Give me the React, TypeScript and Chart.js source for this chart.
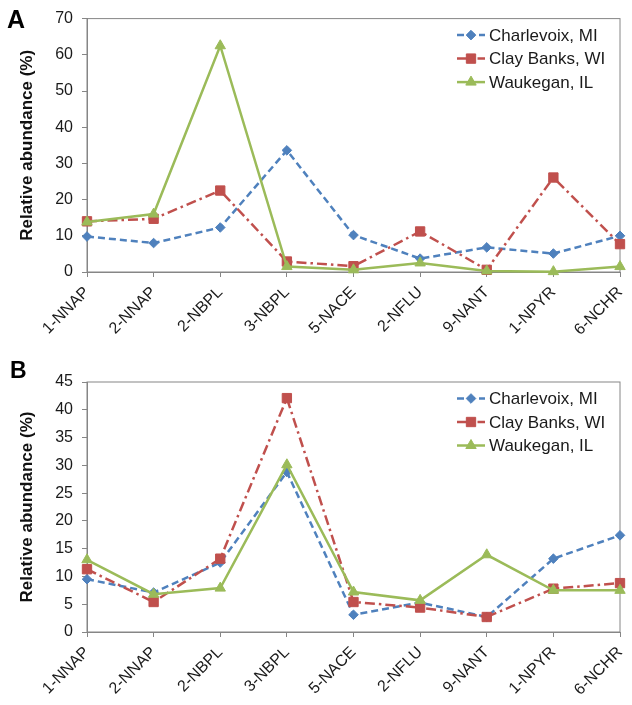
import React, { useEffect, useRef } from "react";
import { Chart, registerables } from "chart.js";

Chart.register(...registerables);

const categories = ["1-NNAP", "2-NNAP", "2-NBPL", "3-NBPL", "5-NACE", "2-NFLU", "9-NANT", "1-NPYR", "6-NCHR"];
const seriesNames = ["Charlevoix, MI", "Clay Banks, WI", "Waukegan, IL"];

const charlevoixA = [9.8, 8.0, 12.3, 33.6, 10.2, 3.7, 6.8, 5.1, 10.0];
const clayBanksA = [14.0, 14.7, 22.5, 2.9, 1.6, 11.2, 0.6, 26.1, 7.7];
const waukeganA = [13.8, 16.0, 62.5, 1.5, 0.6, 2.5, 0.3, 0.1, 1.5];

const charlevoixB = [9.5, 7.1, 12.5, 28.8, 3.1, 5.3, 2.7, 13.2, 17.4];
const clayBanksB = [11.3, 5.4, 13.2, 42.1, 5.4, 4.4, 2.7, 7.8, 8.8];
const waukeganB = [13.0, 6.8, 7.9, 30.1, 7.2, 5.7, 13.9, 7.5, 7.5];

const yMaxA = 70;
const yStepA = 10;
const yMaxB = 45;
const yStepB = 5;
const yTitle = "Relative abundance (%)";

const FONT = "'Liberation Sans', Arial, Helvetica, sans-serif";
const BLUE = "#4F81BD";
const RED = "#C0504D";
const GREEN = "#9BBB59";
const AXIS = "#868686";

function drawMarker(ctx: CanvasRenderingContext2D, style: string, x: number, y: number, r: number, color: string) {
  ctx.save();
  ctx.fillStyle = color;
  ctx.strokeStyle = color;
  ctx.lineWidth = 1;
  ctx.setLineDash([]);
  ctx.beginPath();
  if (style === "rectRot") {
    ctx.moveTo(x, y - r);
    ctx.lineTo(x + r, y);
    ctx.lineTo(x, y + r);
    ctx.lineTo(x - r, y);
    ctx.closePath();
  } else if (style === "rect") {
    const s = Math.SQRT1_2 * r;
    ctx.rect(x - s, y - s, 2 * s, 2 * s);
  } else {
    const h = r * 1.5;
    const half = r * Math.sin(Math.PI / 3);
    ctx.moveTo(x, y - r);
    ctx.lineTo(x + half, y - r + h);
    ctx.lineTo(x - half, y - r + h);
    ctx.closePath();
  }
  ctx.fill();
  ctx.stroke();
  ctx.restore();
}

const framePlugin = {
  id: "frameAndLegend",
  beforeDatasetsDraw(chart: any) {
    const { ctx, chartArea } = chart;
    ctx.save();
    ctx.strokeStyle = AXIS;
    ctx.lineWidth = 1;
    ctx.strokeRect(chartArea.left, chartArea.top, chartArea.right - chartArea.left, chartArea.bottom - chartArea.top);
    ctx.restore();
  },
  afterDraw(chart: any, _args: any, opts: any) {
    const { ctx, chartArea } = chart;
    chart.data.datasets.forEach((ds: any, i: number) => {
      const y = chartArea.top + 16.5 + i * 23.5;
      const x0 = chartArea.right - 163;
      const x1 = chartArea.right - 135;
      const xm = chartArea.right - 149;
      ctx.save();
      ctx.strokeStyle = ds.borderColor;
      ctx.lineWidth = ds.borderWidth;
      ctx.setLineDash(ds.borderDash || []);
      ctx.beginPath();
      ctx.moveTo(x0, y);
      ctx.lineTo(x1, y);
      ctx.stroke();
      ctx.restore();
      drawMarker(ctx, ds.pointStyle, xm, y, ds.pointRadius, ds.pointBackgroundColor);
      ctx.save();
      ctx.fillStyle = "#1a1a1a";
      ctx.font = `17px ${FONT}`;
      ctx.textAlign = "left";
      ctx.textBaseline = "middle";
      ctx.fillText(ds.label, chartArea.right - 131, y + 1);
      ctx.restore();
    });
    if (opts && opts.letter) {
      ctx.save();
      ctx.fillStyle = "#000";
      ctx.font = `bold ${opts.letterSize}px ${FONT}`;
      ctx.textAlign = "left";
      ctx.textBaseline = "alphabetic";
      ctx.fillText(opts.letter, opts.letterX, opts.letterY);
      ctx.restore();
    }
  },
};

function makeConfig(
  c: number[],
  r: number[],
  w: number[],
  yMax: number,
  yStep: number,
  topPad: number,
  xHeight: number,
  letter: string,
  letterSize: number,
  letterX: number,
  letterY: number
): any {
  const common = { fill: false, tension: 0, borderWidth: 2.5, clip: false, pointBorderWidth: 1 };
  return {
    type: "line",
    data: {
      labels: categories,
      datasets: [
        {
          ...common,
          label: seriesNames[0],
          data: c,
          borderColor: BLUE,
          backgroundColor: BLUE,
          pointBackgroundColor: BLUE,
          pointBorderColor: BLUE,
          borderDash: [7, 4],
          pointStyle: "rectRot",
          pointRadius: 4.8,
          order: 2,
        },
        {
          ...common,
          label: seriesNames[1],
          data: r,
          borderColor: RED,
          backgroundColor: RED,
          pointBackgroundColor: RED,
          pointBorderColor: RED,
          borderDash: [10, 4, 2.5, 4],
          pointStyle: "rect",
          pointRadius: 6.6,
          order: 1,
        },
        {
          ...common,
          label: seriesNames[2],
          data: w,
          borderColor: GREEN,
          backgroundColor: GREEN,
          pointBackgroundColor: GREEN,
          pointBorderColor: GREEN,
          borderDash: [],
          pointStyle: "triangle",
          pointRadius: 6,
          order: 0,
        },
      ],
    },
    options: {
      responsive: false,
      animation: false,
      devicePixelRatio: 1,
      layout: { padding: { top: topPad, right: 12, left: 0, bottom: 0 } },
      plugins: {
        legend: { display: false },
        tooltip: { enabled: false },
        frameAndLegend: { letter, letterSize, letterX, letterY },
      },
      scales: {
        x: {
          type: "category",
          offset: false,
          grid: { display: true, drawOnChartArea: false, drawTicks: true, tickLength: 5, color: AXIS },
          border: { display: true, color: AXIS, width: 1 },
          ticks: {
            color: "#1a1a1a",
            font: { family: FONT, size: 16 },
            maxRotation: 45,
            minRotation: 45,
            padding: 6,
            autoSkip: false,
          },
          afterFit: (scale: any) => {
            scale.height = xHeight;
            scale.paddingRight = 0;
            scale.paddingLeft = 0;
          },
        },
        y: {
          min: 0,
          max: yMax,
          grid: { display: true, drawOnChartArea: false, drawTicks: true, tickLength: 5, color: AXIS },
          border: { display: true, color: AXIS, width: 1 },
          ticks: {
            stepSize: yStep,
            color: "#1a1a1a",
            font: { family: FONT, size: 16 },
            padding: 9,
          },
          title: {
            display: true,
            text: yTitle,
            color: "#111",
            font: { family: FONT, size: 17, weight: "bold" },
            padding: { top: 17, bottom: 0 },
          },
          afterFit: (scale: any) => {
            scale.width = 87;
          },
        },
      },
    },
    plugins: [framePlugin],
  };
}

function ChartPanel(props: { config: any; height: number; top: number }) {
  const ref = useRef<HTMLCanvasElement | null>(null);
  useEffect(() => {
    if (!ref.current) return;
    const chart = new Chart(ref.current, props.config);
    return () => chart.destroy();
  }, []);
  return (
    <canvas
      ref={ref}
      width={632}
      height={props.height}
      style={{ position: "absolute", left: 0, top: props.top, width: 632, height: props.height, display: "block" }}
    />
  );
}

export default function App() {
  const configA = makeConfig(charlevoixA, clayBanksA, waukeganA, yMaxA, yStepA, 17, 83, "A", 25, 7, 28);
  const configB = makeConfig(charlevoixB, clayBanksB, waukeganB, yMaxB, yStepB, 27, 73, "B", 23, 10, 23);
  return (
    <div style={{ position: "absolute", left: 0, top: 0, width: 632, height: 705, background: "#fff", overflow: "hidden" }}>
      <ChartPanel config={configA} height={355} top={0} />
      <ChartPanel config={configB} height={350} top={355} />
    </div>
  );
}
